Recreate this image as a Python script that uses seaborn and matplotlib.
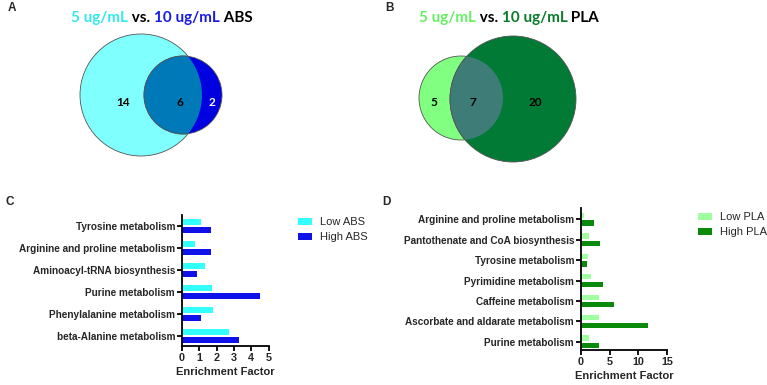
"""
Venn diagrams + enrichment bar charts (ABS / PLA)
"""
import matplotlib
matplotlib.use('Agg')
import matplotlib.pyplot as plt
from matplotlib.patches import Circle, Patch
import seaborn as sns
import pandas as pd

sns.set_style('ticks')
plt.rcParams['font.family'] = ['Liberation Sans', 'DejaVu Sans']

# ---- datos ----
abs_counts = [14, 6, 2]          # solo 5 ug/mL, ambos, solo 10 ug/mL
pla_counts = [5, 7, 20]

abs_pathways = ['Tyrosine metabolism', 'Arginine and proline metabolism',
                'Aminoacyl-tRNA biosynthesis', 'Purine metabolism',
                'Phenylalanine metabolism', 'beta-Alanine metabolism']
abs_low = [1.07, 0.74, 1.34, 1.71, 1.82, 2.73]
abs_high = [1.65, 1.65, 0.85, 4.48, 1.07, 3.28]

pla_pathways = ['Arginine and proline metabolism', 'Pantothenate and CoA biosynthesis',
                'Tyrosine metabolism', 'Pyrimidine metabolism', 'Caffeine metabolism',
                'Ascorbate and aldarate metabolism', 'Purine metabolism']
pla_low = [0.58, 1.45, 1.28, 1.69, 3.08, 3.08, 1.45]
pla_high = [2.2, 3.26, 1.1, 3.78, 5.76, 11.7, 3.14]

W, H = 767, 385
fig = plt.figure(figsize=(W / 100, H / 100), dpi=100)


def px_axes(x0, y0, x1, y1):
    """axes definidos en pixeles (origen arriba-izquierda)"""
    return fig.add_axes([x0 / W, 1 - y1 / H, (x1 - x0) / W, (y1 - y0) / H])


def colored_title(parts, xc, y, size=11):
    """titulo multicolor centrado en xc (pixeles)"""
    r = fig.canvas.get_renderer()
    texts, widths = [], []
    for s, c in parts:
        t = fig.text(0, 1 - y / H, s, color=c, fontsize=size, fontweight='bold',
                     family=['Lato', 'DejaVu Sans'], va='center', ha='left')
        widths.append(t.get_window_extent(r).width)
        texts.append(t)
    x = xc - sum(widths) / 2
    for t, w in zip(texts, widths):
        t.set_x(x / W)
        x += w


def venn(ax, c1, c2, col1, col2, col_ov, counts, count_pos, count_cols):
    ax.set_xlim(0, 380)
    ax.set_ylim(200, 0)
    ax.axis('off')
    ax.add_patch(Circle(c1[:2], c1[2], facecolor=col1, edgecolor='#555555', lw=0.6))
    ax.add_patch(Circle(c2[:2], c2[2], facecolor=col2, edgecolor='#555555', lw=0.6))
    ov = Circle(c2[:2], c2[2], facecolor=col_ov, edgecolor='#555555', lw=0.6)
    ax.add_patch(ov)
    ov.set_clip_path(Circle(c1[:2], c1[2], transform=ax.transData))
    for n, (x, y), c in zip(counts, count_pos, count_cols):
        ax.text(x, y, str(n), ha='center', va='center', fontsize=8.5,
                fontweight='bold', color=c, family=['Lato', 'DejaVu Sans'])


# ---- A ----
axA = px_axes(0, 0, 380, 200)
venn(axA, (141, 95, 61), (183, 95, 39), '#80FFFF', '#0000E0', '#0079B8',
     abs_counts, [(123, 102), (180, 102), (212, 102)], ['black', 'black', 'white'])
colored_title([('5 ug/mL', '#33E8E8'), (' vs. ', 'black'), ('10 ug/mL', '#1A1AE6'),
               (' ABS', 'black')], 162, 18)

# ---- B ----
axB = px_axes(380, 0, 760, 200)
venn(axB, (81, 98, 42), (133, 99, 63), '#80FF80', '#007A35', '#3E7C78',
     pla_counts, [(54, 102), (93, 102), (155, 102)], ['black', 'black', 'black'])
colored_title([('5 ug/mL', '#66EE66'), (' vs. ', 'black'), ('10 ug/mL', '#0B7A2B'),
               (' PLA', 'black')], 509, 18)


def enrichment_bars(ax, pathways, low, high, labels, colors, xmax, xticks, ylim):
    df = pd.DataFrame({'pathway': pathways * 2,
                       'value': low + high,
                       'group': [labels[0]] * len(low) + [labels[1]] * len(high)})
    sns.barplot(data=df, y='pathway', x='value', hue='group', orient='h',
                palette=colors, width=0.74, gap=0.3, ax=ax, legend=False,
                saturation=1, linewidth=0)
    ax.set_xlim(0, xmax)
    ax.set_xticks(xticks)
    ax.set_ylim(*ylim)
    ax.set_ylabel('')
    ax.set_xlabel('Enrichment Factor', fontsize=8, fontweight='bold', labelpad=3)
    sns.despine(ax=ax)
    for s in ['left', 'bottom']:
        ax.spines[s].set_linewidth(1.3)
        ax.spines[s].set_color('black')
    ax.tick_params(axis='both', width=1.3, length=3.5, color='black', pad=1.5)
    ax.tick_params(axis='y', labelsize=7.2)
    ax.tick_params(axis='x', labelsize=7.8)
    for lab in ax.get_xticklabels() + ax.get_yticklabels():
        lab.set_fontweight('bold')


def legend_box(ax, labels, colors, x, y):
    handles = [Patch(facecolor=c, edgecolor='none') for c in colors]
    ax.legend(handles, labels, loc='upper left', bbox_to_anchor=(x / W, 1 - y / H),
              bbox_transform=fig.transFigure, frameon=False, fontsize=8,
              handlelength=1.3, handleheight=0.6, labelspacing=0.45,
              handletextpad=0.7, borderpad=0, borderaxespad=0)


# ---- C ----
axC = px_axes(182, 215, 268.5, 346)
enrichment_bars(axC, abs_pathways, abs_low, abs_high, ['Low ABS', 'High ABS'],
                ['#33FFFF', '#1010E8'], 5, range(0, 6), (5.45, -0.5))
legend_box(axC, ['Low ABS', 'High ABS'], ['#33FFFF', '#1010E8'], 298, 217)

# ---- D ----
axD = px_axes(581, 208, 667, 350)
enrichment_bars(axD, pla_pathways, pla_low, pla_high, ['Low PLA', 'High PLA'],
                ['#A0FFA0', '#0A8A0A'], 15, [0, 5, 10, 15], (6.4, -0.55))
legend_box(axD, ['Low PLA', 'High PLA'], ['#A0FFA0', '#0A8A0A'], 698, 212)

# ---- letras de panel ----
for letter, x, y in [('A', 8, 8), ('B', 385, 8), ('C', 5, 202), ('D', 382, 202)]:
    fig.text(x / W, 1 - y / H, letter, fontsize=8.5, fontweight='bold',
             va='center', ha='left')

fig.savefig('out.png', dpi=100)
